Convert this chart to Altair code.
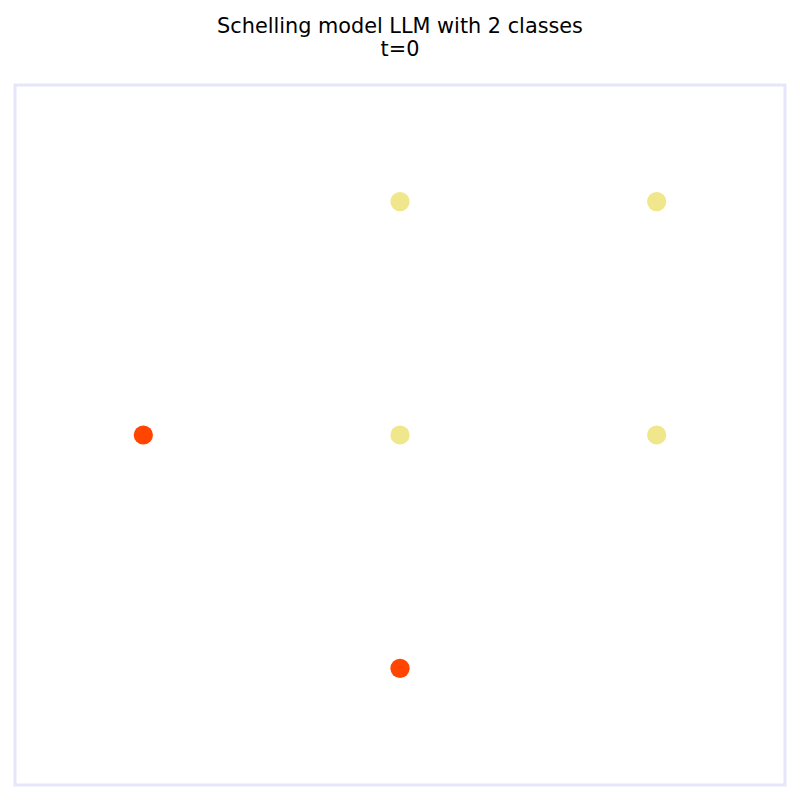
import altair as alt
import pandas as pd

xs = [0, 1, 2, 1, 2, 1]
ys = [1, 2, 2, 1, 1, 0]
classes = ["A", "B", "B", "B", "B", "A"]
class_names = ["A", "B"]
class_colors = ["#ff4500", "#f0e68c"]

df = pd.DataFrame({"x": xs, "y": ys, "cls": classes})

chart = alt.Chart(df).mark_circle(size=370, opacity=1).encode(
    x=alt.X("x:Q", scale=alt.Scale(domain=[-0.5, 2.5], nice=False, zero=False), axis=None),
    y=alt.Y("y:Q", scale=alt.Scale(domain=[-0.5, 2.5], nice=False, zero=False), axis=None),
    color=alt.Color("cls:N", scale=alt.Scale(domain=class_names, range=class_colors), legend=None),
).properties(
    width=770,
    height=700,
    title=alt.TitleParams(
        text=["Schelling model LLM with 2 classes", "t=0"],
        fontSize=20.8,
        font="DejaVu Sans",
        fontWeight="normal",
        anchor="middle",
        lineHeight=23,
        offset=24,
        color="black",
    ),
    padding={"left": 15, "top": 85, "right": 15, "bottom": 15},
    autosize=alt.AutoSizeParams(type="none"),
).configure_view(stroke="#e6e6fa", strokeWidth=3)

chart.save("out.html", embed_options={"renderer": "svg", "actions": False})
